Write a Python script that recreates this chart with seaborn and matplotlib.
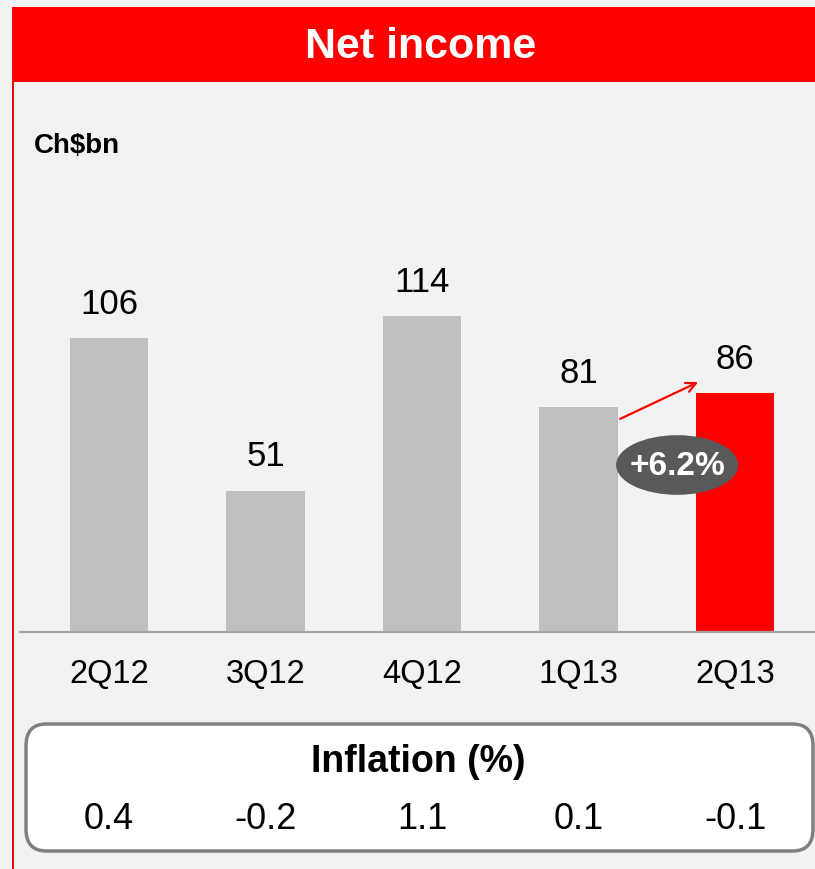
import matplotlib
matplotlib.use("Agg")
import seaborn as sns
import matplotlib.pyplot as plt
from matplotlib.patches import Rectangle, FancyBboxPatch, Ellipse
from matplotlib.transforms import blended_transform_factory

quarters = ["2Q12", "3Q12", "4Q12", "1Q13", "2Q13"]
net_income = [106, 51, 114, 81, 86]
inflation = ["0.4", "-0.2", "1.1", "0.1", "-0.1"]
bar_colors = ["#bfbfbf", "#bfbfbf", "#bfbfbf", "#bfbfbf", "#ff0000"]
growth_label = "+6.2%"

sns.set_style("white")
plt.rcParams["font.family"] = ["Liberation Sans", "DejaVu Sans"]
plt.rcParams["text.color"] = "black"
plt.rcParams["xtick.color"] = "black"

W, H = 815, 870
fig = plt.figure(figsize=(W / 100, H / 100), dpi=100)
fig.patch.set_facecolor("#f2f2f2")

# header band + left red rule
fig.patches.append(Rectangle((12 / W, 1 - 83 / H), 1, 75 / H, transform=fig.transFigure,
                             facecolor="#ff0000", edgecolor="none", zorder=-2))
fig.patches.append(Rectangle((12 / W, 0), 2 / W, 1 - 83 / H, transform=fig.transFigure,
                             facecolor="#ff0000", edgecolor="none", zorder=-2))
fig.text(421 / W, 1 - 47 / H, "Net income", color="white", fontsize=31, fontweight="bold",
         ha="center", va="center")
fig.text(34 / W, 1 - 146 / H, "Ch$bn", fontsize=20, fontweight="bold", ha="left", va="center")

# inflation box (behind the axes so the values show)
fig.patches.append(FancyBboxPatch((26 / W, 1 - 852 / H), (813 - 26) / W, 127 / H,
                                  boxstyle="round,pad=0,rounding_size=0.025",
                                  transform=fig.transFigure, facecolor="white",
                                  edgecolor="#808080", linewidth=2.5, zorder=-1))

# main bar axes
ax = fig.add_axes([20 / W, 1 - 633 / H, 1 - 20 / W, (633 - 180) / H])
ax.set_facecolor("none")
sns.barplot(x=quarters, y=net_income, hue=quarters, palette=bar_colors, legend=False,
            width=0.5, saturation=1, edgecolor="none", linewidth=0, ax=ax)
ax.set_xlim(-0.569, 4.511)
ax.set_ylim(0, 163.3)
for c in ax.containers:
    ax.bar_label(c, fontsize=25, padding=13)
ax.set_xlabel("")
ax.set_ylabel("")
ax.set_yticks([])
ax.tick_params(axis="x", length=0, pad=19, labelsize=23.5)
for s in ["top", "right", "left"]:
    ax.spines[s].set_visible(False)
ax.spines["bottom"].set_color("#a6a6a6")
ax.spines["bottom"].set_linewidth(1.6)

# growth arrow and badge
ax.annotate("", xy=(4 - 0.22, net_income[4] + 4.5), xytext=(3.25, net_income[3] - 4.6),
            arrowprops=dict(arrowstyle="->,head_length=0.7,head_width=0.35", color="#ff0000", lw=1.6))
ax.add_patch(Ellipse((3.63, 60.2), 0.78, 21.5, facecolor="#595959", edgecolor="none", zorder=5))
ax.text(3.63, 60.2, growth_label, color="white", fontsize=24, fontweight="bold",
        ha="center", va="center", zorder=6)

fig.text(418 / W, 1 - 762 / H, "Inflation (%)", fontsize=27, fontweight="bold",
         ha="center", va="center")
tr = blended_transform_factory(ax.transData, fig.transFigure)
for i, v in enumerate(inflation):
    ax.text(i, 1 - 820 / H, v, transform=tr, fontsize=26, ha="center", va="center", clip_on=False)

fig.savefig("out.png", dpi=100, facecolor=fig.get_facecolor())
